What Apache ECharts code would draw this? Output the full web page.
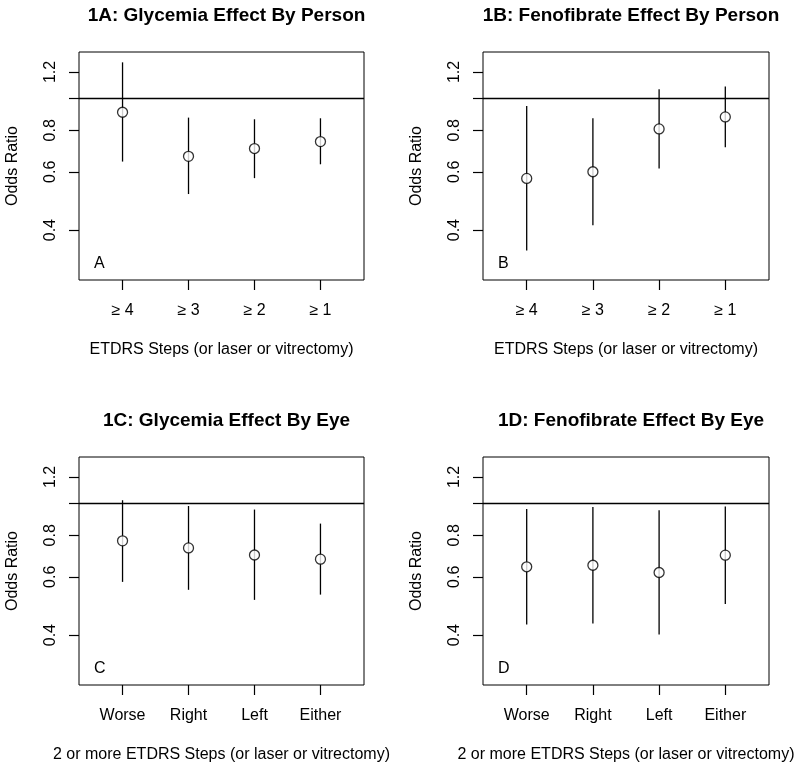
<!DOCTYPE html>
<html>
<head>
<meta charset="utf-8">
<script src="https://cdn.jsdelivr.net/npm/echarts@6/dist/echarts.min.js"></script>
<style>html,body{margin:0;padding:0;background:#fff}#c{width:800px;height:768px}</style>
</head>
<body>
<div id="c"></div>
<script>
// ---- data ----
const titles = ['1A: Glycemia Effect By Person', '1B: Fenofibrate Effect By Person', '1C: Glycemia Effect By Eye', '1D: Fenofibrate Effect By Eye'];
const panelLetters = ['A', 'B', 'C', 'D'];
const personCategories = ['\u2265 4', '\u2265 3', '\u2265 2', '\u2265 1'];
const eyeCategories = ['Worse', 'Right', 'Left', 'Either'];
const personXTitle = 'ETDRS Steps (or laser or vitrectomy)';
const eyeXTitle = '2 or more ETDRS Steps (or laser or vitrectomy)';
const yTickLabels = [0.4, 0.6, 0.8, 1.2];
const yTicks = [0.4, 0.6, 0.8, 1.0, 1.2];
const refLine = 1.0;
const yRange = [0.3, 1.3];

const glyPersonOR = [0.907, 0.668, 0.705, 0.740];
const glyPersonLo = [0.644, 0.514, 0.574, 0.632];
const glyPersonHi = [1.283, 0.874, 0.864, 0.870];

const fenoPersonOR = [0.573, 0.600, 0.808, 0.878];
const fenoPersonLo = [0.347, 0.414, 0.614, 0.711];
const fenoPersonHi = [0.948, 0.870, 1.064, 1.084];

const glyEyeOR = [0.770, 0.733, 0.698, 0.678];
const glyEyeLo = [0.579, 0.548, 0.511, 0.530];
const glyEyeHi = [1.021, 0.981, 0.957, 0.868];

const fenoEyeOR = [0.643, 0.650, 0.618, 0.697];
const fenoEyeLo = [0.431, 0.434, 0.402, 0.497];
const fenoEyeHi = [0.961, 0.974, 0.952, 0.977];

// ---- build ----
const panels = [
  {or: glyPersonOR, lo: glyPersonLo, hi: glyPersonHi, cats: personCategories, xt: personXTitle},
  {or: fenoPersonOR, lo: fenoPersonLo, hi: fenoPersonHi, cats: personCategories, xt: personXTitle},
  {or: glyEyeOR, lo: glyEyeLo, hi: glyEyeHi, cats: eyeCategories, xt: eyeXTitle},
  {or: fenoEyeOR, lo: fenoEyeLo, hi: fenoEyeHi, cats: eyeCategories, xt: eyeXTitle}
];
const L = Math.log10;
const font = '"Liberation Sans", Arial, Helvetica, sans-serif';
const lyMin = L(yRange[0]), lyMax = L(yRange[1]);
const lyPad = (lyMax - lyMin) * 0.04;
const gridPos = [
  {left: 79, top: 52, width: 285, height: 228},
  {left: 483, top: 52, width: 286, height: 228},
  {left: 79, top: 457, width: 285, height: 228},
  {left: 483, top: 457, width: 286, height: 228}
];

const grids = [], xAxes = [], yAxes = [], series = [], titleComps = [], graphics = [];
panels.forEach((p, i) => {
  const g = gridPos[i];
  grids.push(Object.assign({show: true, borderColor: '#000', borderWidth: 1, backgroundColor: 'transparent', containLabel: false}, g));
  const cats = p.cats;
  xAxes.push({
    type: 'value', gridIndex: i, position: 'bottom', min: 0.5 - 0.16, max: 4.5 + 0.16,
    splitLine: {show: false}, axisLine: {show: false, onZero: false},
    axisTick: {show: true, length: 10, inside: false, customValues: [1, 2, 3, 4], lineStyle: {color: '#000', width: 1.2}},
    axisLabel: {show: true, customValues: [1, 2, 3, 4], margin: 23, color: '#000', fontSize: 16, fontFamily: font,
      formatter: v => cats[Math.round(v) - 1]},
    name: p.xt, nameLocation: 'middle', nameGap: 62,
    nameTextStyle: {color: '#000', fontSize: 16, fontFamily: font}
  });
  yAxes.push({
    type: 'value', gridIndex: i, position: 'left', min: lyMin - lyPad, max: lyMax + lyPad,
    splitLine: {show: false}, axisLine: {show: false, onZero: false},
    axisTick: {show: true, length: 10, customValues: yTicks.map(L), lineStyle: {color: '#000', width: 1.2}},
    axisLabel: {show: true, customValues: yTickLabels.map(L), rotate: 90, margin: 20, color: '#000', fontSize: 16, fontFamily: font,
      formatter: v => { const t = Math.pow(10, v); return (Math.round(t * 10) / 10).toFixed(1); }},
    name: 'Odds Ratio', nameLocation: 'middle', nameGap: 58, nameRotate: 90,
    nameTextStyle: {color: '#000', fontSize: 16, fontFamily: font}
  });
  series.push({
    type: 'custom', xAxisIndex: i, yAxisIndex: i, z: 2,
    data: p.or.map((v, k) => [k + 1, L(p.lo[k]), L(p.hi[k])]),
    encode: {x: 0, y: [1, 2]},
    renderItem: (params, api) => {
      const a = api.coord([api.value(0), api.value(1)]);
      const b = api.coord([api.value(0), api.value(2)]);
      return {type: 'line', shape: {x1: a[0], y1: a[1], x2: b[0], y2: b[1]}, style: {stroke: '#000', lineWidth: 1.3}};
    },
    silent: true
  });
  series.push({
    type: 'scatter', xAxisIndex: i, yAxisIndex: i, z: 3,
    symbol: 'circle', symbolSize: 10,
    itemStyle: {color: '#fff', borderColor: '#000', borderWidth: 1.3},
    data: p.or.map((v, k) => [k + 1, L(v)]),
    silent: true,
    markLine: {silent: true, symbol: 'none', animation: false,
      lineStyle: {color: '#000', type: 'solid', width: 1.3}, label: {show: false},
      data: [{yAxis: L(refLine)}]}
  });
  titleComps.push({
    text: titles[i], left: g.left + g.width / 2, top: g.top - 51, textAlign: 'center',
    textStyle: {color: '#000', fontSize: 19, fontWeight: 'bold', fontFamily: font}
  });
  graphics.push({
    type: 'text', left: g.left + 15, top: g.top + 204,
    style: {text: panelLetters[i], fill: '#000', fontSize: 16, fontFamily: font}
  });
});

const chart = echarts.init(document.getElementById('c'), null, {renderer: 'canvas'});
chart.setOption({
  animation: false,
  backgroundColor: '#fff',
  title: titleComps,
  grid: grids, xAxis: xAxes, yAxis: yAxes, series: series,
  graphic: graphics
});
</script>
</body>
</html>
